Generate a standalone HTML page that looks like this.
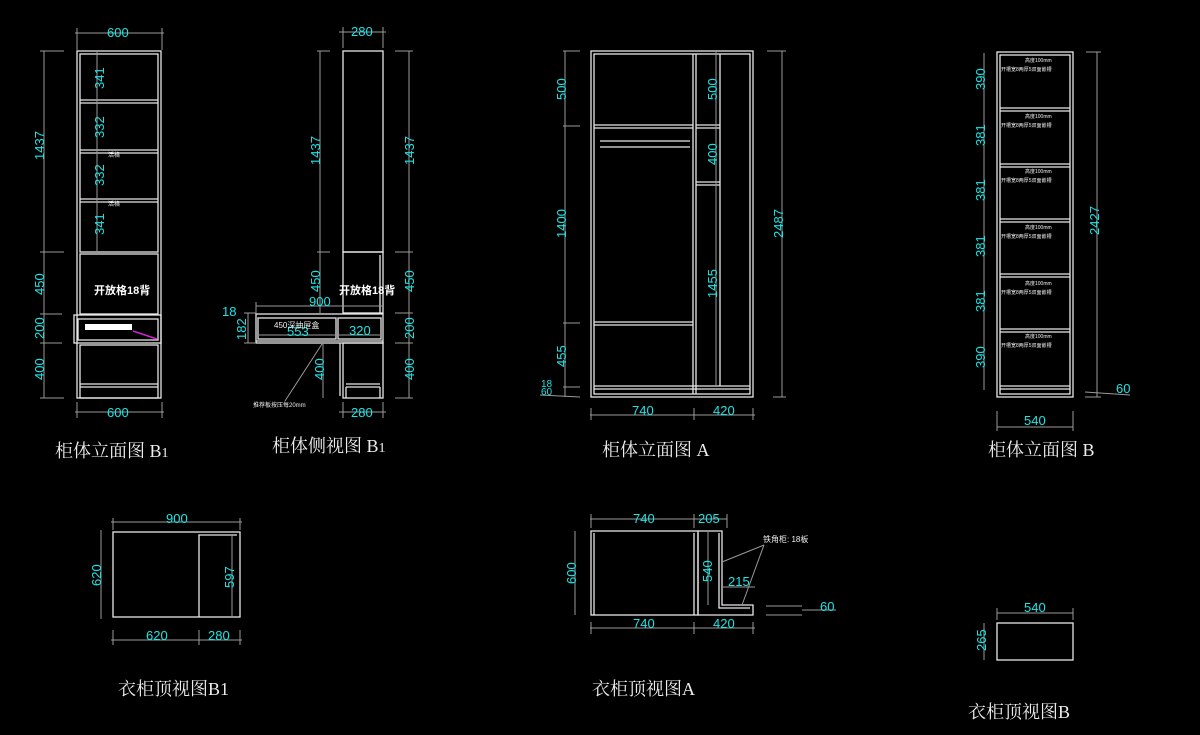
<!DOCTYPE html>
<html><head><meta charset="utf-8"><style>
html,body{margin:0;padding:0;background:#000;}
svg{display:block}
.w{stroke:#e8e8e8;stroke-width:1.3;fill:none}
.d{stroke:#9a9a9a;stroke-width:1;fill:none}
.c{fill:#19e6e6;font-family:"Liberation Sans Narrow","Liberation Sans",sans-serif;font-size:13px}
.t{fill:#eee;font-family:"Liberation Serif","Noto Serif CJK SC",serif;font-size:18px}
.s{fill:#eee;font-family:"Liberation Sans","Noto Sans CJK SC",sans-serif;font-size:6px}
.b{fill:#fff;font-family:"Liberation Sans","Noto Sans CJK SC",sans-serif;font-size:11px;font-weight:bold}
</style></head><body>
<svg width="1200" height="735" viewBox="0 0 1200 735" xmlns="http://www.w3.org/2000/svg">
<rect width="1200" height="735" fill="#000"/>

<!-- ===== B1 elevation ===== -->
<g class="w">
<rect x="77" y="51" width="84" height="347"/>
<rect x="80" y="54" width="78" height="198"/>
<line x1="80" y1="100" x2="158" y2="100"/><line x1="80" y1="103" x2="158" y2="103"/>
<line x1="80" y1="150" x2="158" y2="150"/><line x1="80" y1="153" x2="158" y2="153"/>
<line x1="80" y1="199" x2="158" y2="199"/><line x1="80" y1="202" x2="158" y2="202"/>
<rect x="80" y="254" width="78" height="60"/>
<rect x="74" y="315" width="87" height="28"/>
<rect x="78" y="319" width="80" height="21"/>
<rect x="80" y="345" width="78" height="53"/>
<line x1="80" y1="384" x2="158" y2="384"/><line x1="80" y1="387" x2="158" y2="387"/>
</g>
<rect x="85" y="324" width="47" height="6" fill="#fff"/>
<line x1="133" y1="331" x2="157" y2="339" stroke="#d020d0" stroke-width="1.5"/>
<g class="d">
<line x1="75" y1="33" x2="164" y2="33"/><line x1="77" y1="28" x2="77" y2="50"/><line x1="162" y1="28" x2="162" y2="50"/>
<line x1="44" y1="51" x2="44" y2="398"/>
<line x1="40" y1="51" x2="64" y2="51"/><line x1="40" y1="252" x2="64" y2="252"/><line x1="40" y1="314" x2="62" y2="314"/><line x1="40" y1="343" x2="62" y2="343"/><line x1="40" y1="398" x2="64" y2="398"/>
<line x1="97" y1="51" x2="97" y2="252"/>
<line x1="75" y1="412" x2="164" y2="412"/><line x1="77" y1="402" x2="77" y2="418"/><line x1="162" y1="402" x2="162" y2="418"/>
</g>
<text class="c" x="107" y="37">600</text>
<text class="c" x="107" y="417">600</text>
<text class="c" transform="translate(44,160) rotate(-90)">1437</text>
<text class="c" transform="translate(44,295) rotate(-90)">450</text>
<text class="c" transform="translate(44,339) rotate(-90)">200</text>
<text class="c" transform="translate(44,380) rotate(-90)">400</text>
<text class="c" transform="translate(104,89) rotate(-90)">341</text>
<text class="c" transform="translate(104,138) rotate(-90)">332</text>
<text class="c" transform="translate(104,186) rotate(-90)">332</text>
<text class="c" transform="translate(104,235) rotate(-90)">341</text>
<text class="s" x="108" y="157">活格</text>
<text class="s" x="108" y="206">活格</text>
<text class="b" x="94" y="294">开放格18背</text>

<!-- ===== B1 side ===== -->
<g class="w">
<rect x="343" y="51" width="40" height="201"/>
<rect x="343" y="252" width="40" height="61"/>
<line x1="380" y1="255" x2="380" y2="313"/>
<rect x="256" y="314" width="127" height="29"/>
<rect x="258" y="318" width="78" height="21"/>
<rect x="338" y="318" width="43" height="21"/>
<line x1="256" y1="341" x2="383" y2="341"/>
<rect x="343" y="343" width="40" height="55"/>
<line x1="340" y1="343" x2="340" y2="396"/>
<line x1="346" y1="384" x2="380" y2="384"/><line x1="346" y1="387" x2="380" y2="387"/>
<line x1="346" y1="387" x2="346" y2="398"/><line x1="380" y1="387" x2="380" y2="398"/>
</g>
<g class="d">
<line x1="339" y1="32" x2="386" y2="32"/><line x1="343" y1="27" x2="343" y2="48"/><line x1="383" y1="27" x2="383" y2="48"/>
<line x1="320" y1="51" x2="320" y2="313"/>
<line x1="317" y1="51" x2="330" y2="51"/><line x1="317" y1="252" x2="330" y2="252"/>
<line x1="409" y1="51" x2="409" y2="398"/>
<line x1="395" y1="51" x2="413" y2="51"/><line x1="395" y1="252" x2="413" y2="252"/><line x1="395" y1="313" x2="413" y2="313"/><line x1="395" y1="343" x2="413" y2="343"/><line x1="395" y1="398" x2="413" y2="398"/>
<line x1="256" y1="306" x2="383" y2="306"/><line x1="256" y1="302" x2="256" y2="313"/>
<line x1="258" y1="335" x2="381" y2="335"/>
<line x1="323" y1="343" x2="323" y2="398"/>
<line x1="248" y1="313" x2="248" y2="343"/><line x1="244" y1="313" x2="256" y2="313"/><line x1="244" y1="343" x2="256" y2="343"/>
<line x1="322" y1="344" x2="285" y2="401"/>
<line x1="339" y1="412" x2="386" y2="412"/><line x1="343" y1="402" x2="343" y2="418"/><line x1="383" y1="402" x2="383" y2="418"/>
</g>
<text class="c" x="351" y="36">280</text>
<text class="c" x="351" y="417">280</text>
<text class="c" transform="translate(320,165) rotate(-90)">1437</text>
<text class="c" transform="translate(320,292) rotate(-90)">450</text>
<text class="c" transform="translate(414,165) rotate(-90)">1437</text>
<text class="c" transform="translate(414,292) rotate(-90)">450</text>
<text class="c" transform="translate(414,339) rotate(-90)">200</text>
<text class="c" transform="translate(414,380) rotate(-90)">400</text>
<text class="c" transform="translate(324,380) rotate(-90)">400</text>
<text class="c" x="309" y="306">900</text>
<text class="c" x="222" y="316">18</text>
<text class="c" transform="translate(246,340) rotate(-90)">182</text>
<text class="c" x="287" y="336">553</text>
<text class="c" x="349" y="335">320</text>
<text class="s" x="274" y="328" style="font-size:8px">450深抽屉盒</text>
<text class="s" x="253" y="407">推荐板按压每20mm</text>
<text class="b" x="339" y="294">开放格18背</text>

<!-- ===== A elevation ===== -->
<g class="w">
<rect x="591" y="51" width="162" height="346"/>
<rect x="594" y="54" width="156" height="340"/>
<line x1="693" y1="54" x2="693" y2="394"/><line x1="696" y1="54" x2="696" y2="394"/>
<line x1="594" y1="125" x2="693" y2="125"/><line x1="594" y1="128" x2="693" y2="128"/>
<line x1="696" y1="125" x2="720" y2="125"/><line x1="696" y1="128" x2="720" y2="128"/>
<line x1="696" y1="182" x2="720" y2="182"/><line x1="696" y1="185" x2="720" y2="185"/>
<line x1="594" y1="322" x2="693" y2="322"/><line x1="594" y1="325" x2="693" y2="325"/>
<line x1="594" y1="386" x2="750" y2="386"/><line x1="594" y1="389" x2="750" y2="389"/>
<line x1="720" y1="54" x2="720" y2="386"/>
<line x1="600" y1="141" x2="690" y2="141"/><line x1="600" y1="147" x2="690" y2="147"/>
</g>
<g class="d">
<line x1="565" y1="51" x2="565" y2="397"/>
<line x1="563" y1="51" x2="580" y2="51"/><line x1="563" y1="126" x2="580" y2="126"/><line x1="563" y1="323" x2="580" y2="323"/><line x1="563" y1="387" x2="580" y2="387"/><line x1="540" y1="395" x2="580" y2="397"/>
<line x1="716" y1="51" x2="716" y2="386"/>
<line x1="782" y1="51" x2="782" y2="397"/><line x1="767" y1="51" x2="786" y2="51"/><line x1="773" y1="397" x2="786" y2="397"/>
<line x1="590" y1="415" x2="755" y2="415"/><line x1="591" y1="408" x2="591" y2="420"/><line x1="694" y1="408" x2="694" y2="420"/><line x1="753" y1="408" x2="753" y2="420"/>
</g>
<text class="c" transform="translate(566,100) rotate(-90)">500</text>
<text class="c" transform="translate(566,238) rotate(-90)">1400</text>
<text class="c" transform="translate(566,367) rotate(-90)">455</text>
<text class="c" x="541" y="387" style="font-size:10px">18</text>
<text class="c" x="541" y="395" style="font-size:10px">60</text>
<text class="c" transform="translate(717,100) rotate(-90)">500</text>
<text class="c" transform="translate(717,165) rotate(-90)">400</text>
<text class="c" transform="translate(717,298) rotate(-90)">1455</text>
<text class="c" transform="translate(783,238) rotate(-90)">2487</text>
<text class="c" x="632" y="415">740</text>
<text class="c" x="713" y="415">420</text>

<!-- ===== B elevation ===== -->
<g class="w">
<rect x="997" y="52" width="76" height="345"/>
<rect x="1000" y="55" width="70" height="339"/>
<line x1="1000" y1="108" x2="1070" y2="108"/><line x1="1000" y1="111" x2="1070" y2="111"/>
<line x1="1000" y1="164" x2="1070" y2="164"/><line x1="1000" y1="167" x2="1070" y2="167"/>
<line x1="1000" y1="219" x2="1070" y2="219"/><line x1="1000" y1="222" x2="1070" y2="222"/>
<line x1="1000" y1="274" x2="1070" y2="274"/><line x1="1000" y1="277" x2="1070" y2="277"/>
<line x1="1000" y1="329" x2="1070" y2="329"/><line x1="1000" y1="332" x2="1070" y2="332"/>
<line x1="1000" y1="386" x2="1070" y2="386"/><line x1="1000" y1="389" x2="1070" y2="389"/>
</g>
<g class="d">
<line x1="984" y1="53" x2="984" y2="390"/>
<line x1="1097" y1="52" x2="1097" y2="397"/><line x1="1086" y1="52" x2="1101" y2="52"/>
<line x1="1085" y1="392" x2="1130" y2="395"/><line x1="1085" y1="397" x2="1101" y2="397"/>
<line x1="997" y1="427" x2="1073" y2="427"/><line x1="997" y1="411" x2="997" y2="431"/><line x1="1073" y1="411" x2="1073" y2="431"/>
</g>
<g class="s" style="font-size:5px">
<text x="1025" y="62">高度100mm</text><text x="1001" y="71">开槽宽8两厚5双面嵌槽</text>
<text x="1025" y="118">高度100mm</text><text x="1001" y="127">开槽宽8两厚5双面嵌槽</text>
<text x="1025" y="173">高度100mm</text><text x="1001" y="182">开槽宽8两厚5双面嵌槽</text>
<text x="1025" y="229">高度100mm</text><text x="1001" y="238">开槽宽8两厚5双面嵌槽</text>
<text x="1025" y="285">高度100mm</text><text x="1001" y="294">开槽宽8两厚5双面嵌槽</text>
<text x="1025" y="338">高度100mm</text><text x="1001" y="347">开槽宽8两厚5双面嵌槽</text>
</g>
<text class="c" transform="translate(985,90) rotate(-90)">390</text>
<text class="c" transform="translate(985,146) rotate(-90)">381</text>
<text class="c" transform="translate(985,201) rotate(-90)">381</text>
<text class="c" transform="translate(985,257) rotate(-90)">381</text>
<text class="c" transform="translate(985,312) rotate(-90)">381</text>
<text class="c" transform="translate(985,368) rotate(-90)">390</text>
<text class="c" transform="translate(1099,235) rotate(-90)">2427</text>
<text class="c" x="1116" y="393">60</text>
<text class="c" x="1024" y="425">540</text>

<!-- titles -->
<text class="t" x="55" y="457">柜体立面图 B<tspan style="font-size:14px">1</tspan></text>
<text class="t" x="272" y="452">柜体侧视图 B<tspan style="font-size:14px">1</tspan></text>
<text class="t" x="602" y="456">柜体立面图 A</text>
<text class="t" x="988" y="456">柜体立面图 B</text>

<!-- ===== top B1 ===== -->
<g class="w">
<rect x="113" y="532" width="127" height="85"/>
<polyline points="199,617 199,535 237,535"/>
</g>
<g class="d">
<line x1="111" y1="522" x2="242" y2="522"/><line x1="113" y1="518" x2="113" y2="530"/><line x1="240" y1="518" x2="240" y2="530"/>
<line x1="101" y1="530" x2="101" y2="619"/>
<line x1="232" y1="535" x2="232" y2="617"/>
<line x1="111" y1="640" x2="242" y2="640"/><line x1="113" y1="630" x2="113" y2="645"/><line x1="199" y1="630" x2="199" y2="645"/><line x1="240" y1="630" x2="240" y2="645"/>
</g>
<text class="c" x="166" y="523">900</text>
<text class="c" transform="translate(101,586) rotate(-90)">620</text>
<text class="c" transform="translate(234,588) rotate(-90)">597</text>
<text class="c" x="146" y="640">620</text>
<text class="c" x="208" y="640">280</text>
<text class="t" x="118" y="695">衣柜顶视图B1</text>

<!-- ===== top A ===== -->
<g class="w">
<rect x="591" y="531" width="107" height="84"/>
<line x1="594" y1="533" x2="594" y2="615"/>
<line x1="694" y1="533" x2="694" y2="615"/>
<line x1="698" y1="533" x2="698" y2="615"/>
<polyline points="698,531 722,531 722,605 753,605 753,615 698,615"/>
<polyline points="719,533 719,608 750,608"/>
</g>
<g class="d">
<line x1="590" y1="519" x2="727" y2="519"/><line x1="591" y1="514" x2="591" y2="528"/><line x1="694" y1="514" x2="694" y2="528"/><line x1="727" y1="514" x2="727" y2="528"/>
<line x1="575" y1="531" x2="575" y2="615"/>
<line x1="708" y1="532" x2="708" y2="605"/>
<line x1="722" y1="587" x2="755" y2="587"/>
<line x1="722" y1="562" x2="764" y2="545"/><line x1="742" y1="605" x2="764" y2="545"/>
<line x1="766" y1="606" x2="802" y2="606"/><line x1="766" y1="615" x2="802" y2="615"/><line x1="802" y1="610" x2="836" y2="610"/>
<line x1="590" y1="628" x2="755" y2="628"/><line x1="591" y1="622" x2="591" y2="634"/><line x1="694" y1="622" x2="694" y2="634"/><line x1="753" y1="622" x2="753" y2="634"/>
</g>
<text class="c" x="633" y="523">740</text>
<text class="c" x="698" y="523">205</text>
<text class="c" transform="translate(576,584) rotate(-90)">600</text>
<text class="c" transform="translate(712,582) rotate(-90)">540</text>
<text class="c" x="728" y="586">215</text>
<text class="c" x="820" y="611">60</text>
<text class="c" x="633" y="628">740</text>
<text class="c" x="713" y="628">420</text>
<text class="s" x="763" y="542" style="font-size:8px">铁角柜: 18板</text>
<text class="t" x="592" y="695">衣柜顶视图A</text>

<!-- ===== top B ===== -->
<rect class="w" x="997" y="623" width="76" height="37"/>
<g class="d">
<line x1="997" y1="613" x2="1073" y2="613"/><line x1="997" y1="608" x2="997" y2="620"/><line x1="1073" y1="608" x2="1073" y2="620"/>
<line x1="984" y1="623" x2="984" y2="660"/>
</g>
<text class="c" x="1024" y="612">540</text>
<text class="c" transform="translate(986,651) rotate(-90)">265</text>
<text class="t" x="968" y="718">衣柜顶视图B</text>
</svg>
</body></html>
